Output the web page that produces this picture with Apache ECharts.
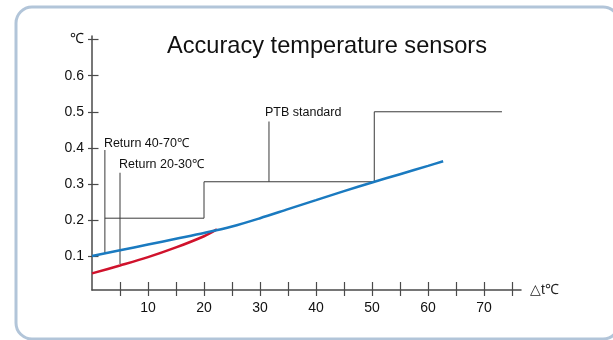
<!DOCTYPE html>
<html><head><meta charset="utf-8">
<script src="https://cdn.jsdelivr.net/npm/echarts@6/dist/echarts.min.js"></script>
<style>html,body{margin:0;padding:0;background:#fff}#c{width:613px;height:340px}</style>
</head><body><div id="c"></div>
<script>
const titleText = 'Accuracy temperature sensors';
const xTickValues = [5,10,15,20,25,30,35,40,45,50,55,60,65,70,75];
const xLabelValues = [10,20,30,40,50,60,70];
const yTickValues = [0.1,0.2,0.3,0.4,0.5,0.6,0.7];
const yLabelValues = [0.1,0.2,0.3,0.4,0.5,0.6,0.7];
const yUnitLabel = '℃';
const xUnitLabel = '△t℃';
// Blue curve: Return 40-70℃
const blueX = [0,5,10,15,20,25,30,35,40,45,50,55,60,62.7];
const blueY = [0.100,0.116,0.132,0.148,0.164,0.182,0.205,0.230,0.255,0.280,0.304,0.327,0.350,0.363];
// Red curve: Return 20-30℃
const redX = [0,5,10,15,20,22.3];
const redY = [0.052,0.074,0.097,0.124,0.155,0.174];
// PTB standard step limit
const ptbX = [2.3,20,20,50.4,50.4,73.2];
const ptbY = [0.205,0.205,0.306,0.306,0.5,0.5];
// Annotation leader lines: x, bottom y, top y, text
const noteNames = ['Return 40-70℃','Return 20-30℃','PTB standard'];
const noteX = [2.3,5,31.6];
const noteY0 = [0.107,0.078,0.306];
const noteY1 = [0.394,0.331,0.473];

const zip = (a,b)=>a.map((v,i)=>[v,b[i]]);
const chart = echarts.init(document.getElementById('c'), null, {renderer:'canvas'});
const FONT = "'Liberation Sans', Arial, Helvetica, sans-serif";
const gridPos = {left:92, right:92, top:36, bottom:50};
const xMin = 0, xMax = 76.6, yMin = 0.006, yMax = 0.71;

const noteSeries = noteNames.map((name,i)=>({
  type:'line', name, xAxisIndex:0, yAxisIndex:0, symbol:'circle', symbolSize:0.01, showSymbol:true, silent:true,
  itemStyle:{color:'#3a3a3a', opacity:0},
  lineStyle:{color:'#3a3a3a', width:1}, z:3,
  data:[
    {value:[noteX[i], noteY0[i]]},
    {value:[noteX[i], noteY1[i]], label:{show:true, formatter:name, position:'top', align:'left',
      distance: i===0 ? 0 : 2, offset:[i===2 ? -4 : -1, 0],
      fontFamily:FONT, fontSize:12.5, color:'#111', opacity:1}}
  ]
}));

chart.setOption({
  animation:false,
  backgroundColor:'#fff',
  graphic:[{type:'rect', z:-10, silent:true,
    shape:{x:16, y:7, width:603, height:332, r:16},
    style:{fill:'#fff', stroke:'#b2c5d9', lineWidth:3}}],
  title:{text:titleText, left:322, top:29, textAlign:'center',
    textStyle:{fontFamily:FONT, fontSize:23.6, fontWeight:'normal', color:'#111'}},
  grid:[Object.assign({}, gridPos), Object.assign({}, gridPos)],
  xAxis:[
    {type:'value', gridIndex:0, min:xMin, max:xMax, splitLine:{show:false},
     name:xUnitLabel, nameLocation:'end', nameGap:9,
     nameTextStyle:{fontFamily:FONT, fontSize:14, color:'#222'},
     axisLine:{show:true, lineStyle:{color:'#4a4a4a', width:1.5}},
     axisTick:{show:true, inside:false, length:6, customValues:xTickValues, lineStyle:{color:'#4a4a4a', width:1.2}},
     axisLabel:{show:true, margin:11, customValues:xLabelValues, fontFamily:FONT, fontSize:14, color:'#111'}},
    {type:'value', gridIndex:1, min:xMin, max:xMax, splitLine:{show:false},
     axisLine:{show:false},
     axisTick:{show:true, inside:true, length:8, customValues:xTickValues, lineStyle:{color:'#4a4a4a', width:1.2}},
     axisLabel:{show:false}}
  ],
  yAxis:[
    {type:'value', gridIndex:0, min:yMin, max:yMax, splitLine:{show:false},
     axisLine:{show:true, lineStyle:{color:'#4a4a4a', width:1.5}},
     axisTick:{show:true, inside:false, length:4, customValues:yTickValues, lineStyle:{color:'#4a4a4a', width:1.2}},
     axisLabel:{show:true, margin:8, customValues:yLabelValues, fontFamily:FONT, fontSize:14, color:'#111',
       formatter:v=> Math.abs(v-0.7)<1e-6 ? yUnitLabel : v.toFixed(1)}},
    {type:'value', gridIndex:1, min:yMin, max:yMax, splitLine:{show:false},
     axisLine:{show:false},
     axisTick:{show:true, inside:true, length:6.5, customValues:yTickValues, lineStyle:{color:'#4a4a4a', width:1.2}},
     axisLabel:{show:false}}
  ],
  series:[
    {type:'line', name:'PTB standard limit', xAxisIndex:0, yAxisIndex:0, symbol:'none', silent:true,
     lineStyle:{color:'#3a3a3a', width:1}, z:3, data:zip(ptbX, ptbY)},
    ...noteSeries,
    {type:'line', name:'Return 20-30℃', xAxisIndex:0, yAxisIndex:0, symbol:'none', smooth:0.3, silent:true,
     lineStyle:{color:'#d0122c', width:2.5}, z:5, data:zip(redX, redY)},
    {type:'line', name:'Return 40-70℃', xAxisIndex:0, yAxisIndex:0, symbol:'none', smooth:0.3, silent:true,
     lineStyle:{color:'#1a7ac0', width:2.5}, z:6, data:zip(blueX, blueY)}
  ]
});
</script></body></html>
